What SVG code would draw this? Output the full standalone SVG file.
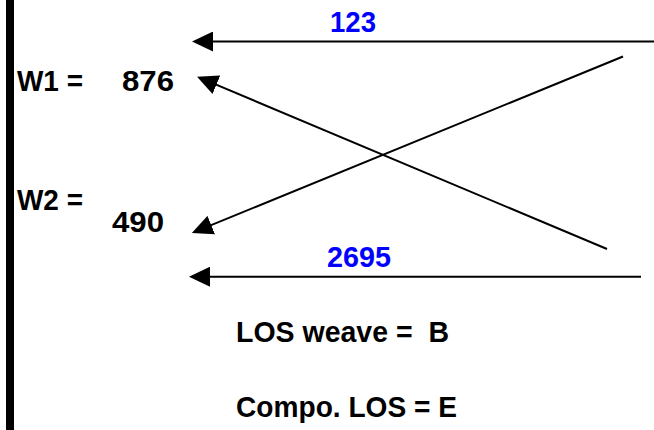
<svg xmlns="http://www.w3.org/2000/svg" width="654" height="430" viewBox="0 0 654 430">
<style>
  text { font-family: "Liberation Sans", Arial, sans-serif; font-weight: bold; font-size: 30px; fill: #000; }
  text.blue { fill: #0000FF; }
  .conn { stroke: #000; stroke-width: 2; fill: none; }
</style>
<defs>
  <marker id="ah" markerUnits="userSpaceOnUse" markerWidth="21" markerHeight="20" refX="10" refY="10" orient="auto" viewBox="0 0 21 20">
    <path d="M0,0 L21,10 L0,20 Z" fill="#000"/>
  </marker>
</defs>
<rect id="bar" x="6" y="0" width="8" height="430" fill="#000"/>
<g id="connectors">
  <line class="conn" x1="654" y1="41.5" x2="203" y2="41.5" marker-end="url(#ah)"/>
  <line class="conn" x1="641" y1="276.7" x2="200" y2="276.7" marker-end="url(#ah)"/>
  <line class="conn" x1="607" y1="249" x2="207.2" y2="80.9" marker-end="url(#ah)"/>
  <line class="conn" x1="623" y1="56.5" x2="202" y2="228.9" marker-end="url(#ah)"/>
</g>
<g id="w1"><text x="17" y="91" textLength="66" lengthAdjust="spacingAndGlyphs">W1 =</text></g>
<g id="v876"><text x="122" y="91" textLength="52" lengthAdjust="spacingAndGlyphs">876</text></g>
<g id="w2"><text x="17" y="210" textLength="66" lengthAdjust="spacingAndGlyphs">W2 =</text></g>
<g id="v490"><text x="112" y="232" textLength="52" lengthAdjust="spacingAndGlyphs">490</text></g>
<g id="v123"><text class="blue" x="330" y="32" textLength="46" lengthAdjust="spacingAndGlyphs">123</text></g>
<g id="v2695"><text class="blue" x="327" y="267" textLength="64" lengthAdjust="spacingAndGlyphs">2695</text></g>
<g id="los"><text x="236" y="342" textLength="213" lengthAdjust="spacingAndGlyphs" xml:space="preserve">LOS weave =  B</text></g>
<g id="compo"><text x="236" y="417" textLength="221" lengthAdjust="spacingAndGlyphs">Compo. LOS = E</text></g>
</svg>
